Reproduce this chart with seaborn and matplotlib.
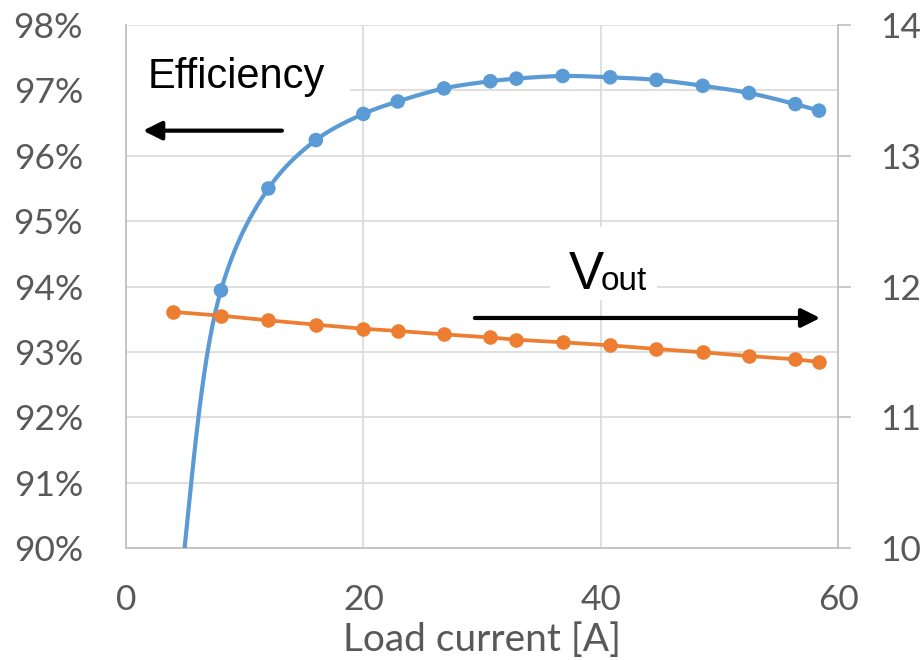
import numpy as np
import pandas as pd
import matplotlib
matplotlib.use('Agg')
import matplotlib.pyplot as plt
from matplotlib.patches import Rectangle
import seaborn as sns

# Odečtené hodnoty z grafu
load_current = [4, 8, 12, 16, 20, 22.9, 26.8, 30.7, 32.9, 36.8, 40.8, 44.7, 48.6, 52.5, 56.4, 58.4]
efficiency = [88.5, 93.94, 95.50, 96.24, 96.64, 96.83, 97.03, 97.14, 97.18, 97.22, 97.20, 97.16, 97.07, 96.96, 96.79, 96.69]
vout = [11.805, 11.777, 11.741, 11.708, 11.677, 11.660, 11.634, 11.610, 11.593, 11.573, 11.550, 11.522, 11.497, 11.468, 11.443, 11.423]

eff_ticks = [90, 91, 92, 93, 94, 95, 96, 97, 98]
v_ticks = [10, 11, 12, 13, 14]
x_ticks = [0, 20, 40, 60]

blue = '#5B9BD5'
orange = '#ED7D31'
grid_col = '#D9D9D9'
spine_col = '#BFBFBF'
tick_col = '#595959'


def smooth(pts, n=40, alpha=0.5):
    # vyhlazená čára (centripetální Catmull-Rom), počítá se v pixelech
    p = np.asarray(pts, dtype=float)
    p = np.vstack([2 * p[0] - p[1], p, 2 * p[-1] - p[-2]])
    out = []
    for i in range(1, len(p) - 2):
        p0, p1, p2, p3 = p[i - 1], p[i], p[i + 1], p[i + 2]
        t0 = 0.0
        t1 = t0 + np.linalg.norm(p1 - p0) ** alpha
        t2 = t1 + np.linalg.norm(p2 - p1) ** alpha
        t3 = t2 + np.linalg.norm(p3 - p2) ** alpha
        t = np.linspace(t1, t2, n)[:, None]
        a1 = (t1 - t) / (t1 - t0) * p0 + (t - t0) / (t1 - t0) * p1
        a2 = (t2 - t) / (t2 - t1) * p1 + (t - t1) / (t2 - t1) * p2
        a3 = (t3 - t) / (t3 - t2) * p2 + (t - t2) / (t3 - t2) * p3
        b1 = (t2 - t) / (t2 - t0) * a1 + (t - t0) / (t2 - t0) * a2
        b2 = (t3 - t) / (t3 - t1) * a2 + (t - t1) / (t3 - t1) * a3
        c = (t2 - t) / (t2 - t1) * b1 + (t - t1) / (t2 - t1) * b2
        out.append(c)
    return np.vstack(out)


df = pd.DataFrame({'I': load_current, 'eff': efficiency, 'v': vout})

sns.set_theme(style='white')
plt.rcParams['font.family'] = ['Lato', 'DejaVu Sans']

fig = plt.figure(figsize=(9.23, 6.6), dpi=100)
ax = fig.add_axes([126 / 923, 112 / 660, 712 / 923, 523 / 660])
ax2 = ax.twinx()

ax.set_xlim(0, 60)
ax.set_ylim(90, 98)
ax2.set_ylim(10, 14)

# vyhlazení účinnosti v souřadnicích obrazovky
disp = ax.transData.transform(df[['I', 'eff']].values)
sm = ax.transData.inverted().transform(smooth(disp))
curve = pd.DataFrame({'I': sm[:, 0], 'eff': sm[:, 1]})

ax.set_xticks(x_ticks)
ax.set_yticks(eff_ticks)
ax.set_yticklabels([f'{t}%' for t in eff_ticks])
ax2.set_yticks(v_ticks)

ax.set_axisbelow(True)
ax.grid(True, color=grid_col, lw=1.2)
ax2.grid(False)

for a in (ax, ax2):
    for s in a.spines.values():
        s.set_visible(False)
ax.spines['left'].set_visible(True)
ax.spines['left'].set_color(spine_col)
ax.spines['bottom'].set_visible(True)
ax.spines['bottom'].set_color(spine_col)
ax2.spines['right'].set_visible(True)
ax2.spines['right'].set_color(spine_col)

ax.tick_params(axis='y', length=0, pad=31, labelsize=25.5, labelcolor=tick_col)
ax.tick_params(axis='x', length=0, pad=26, labelsize=25.5, labelcolor=tick_col)
ax2.tick_params(axis='y', length=9.5, width=1.2, color=spine_col, pad=21,
                labelsize=25.5, labelcolor=tick_col)

# bílé pozadí textových popisků
ax.add_patch(Rectangle((0, 0.84), 0.3146, 0.135, transform=ax.transAxes,
                       facecolor='white', edgecolor='none', zorder=1))
ax.add_patch(Rectangle((0.5955, 0.474), 0.1503, 0.14, transform=ax.transAxes,
                       facecolor='white', edgecolor='none', zorder=1))

sns.lineplot(data=curve, x='I', y='eff', ax=ax, color=blue, linewidth=3, sort=False, zorder=3)
sns.scatterplot(data=df, x='I', y='eff', ax=ax, color=blue, s=110, edgecolor='none', zorder=4)
sns.lineplot(data=df, x='I', y='v', ax=ax2, color=orange, linewidth=2.7, marker='o',
             markersize=10.5, markeredgewidth=0, zorder=3)
ax.set_xlabel('Load current [A]', fontsize=28, color=tick_col, labelpad=4)
ax.set_ylabel('')
ax2.set_ylabel('')

ax.text(0.0309, 0.8795, 'Efficiency', transform=ax.transAxes, family=['Liberation Sans'],
        fontsize=30, color='black', va='baseline', ha='left', zorder=5)
ax.text(0.6222, 0.4955, 'V', transform=ax.transAxes,
        family=['Liberation Sans Narrow', 'Liberation Sans'],
        fontsize=38, color='black', va='baseline', ha='left', zorder=5)
ax.text(0.667, 0.4935, 'out', transform=ax.transAxes,
        family=['Liberation Sans Narrow', 'Liberation Sans'],
        fontsize=24, color='black', va='baseline', ha='left', zorder=5)

ax.annotate('', xy=(0.0239, 0.798), xytext=(0.219, 0.798), xycoords='axes fraction',
            arrowprops=dict(arrowstyle='-|>', lw=3, color='black', mutation_scale=28,
                            shrinkA=0, shrinkB=0), zorder=5)
ax2.annotate('', xy=(0.975, 0.4398), xytext=(0.490, 0.4398), xycoords='axes fraction',
             arrowprops=dict(arrowstyle='-|>', lw=3, color='black', mutation_scale=28,
                             shrinkA=0, shrinkB=0), zorder=5)

fig.savefig('out.png', dpi=100)
